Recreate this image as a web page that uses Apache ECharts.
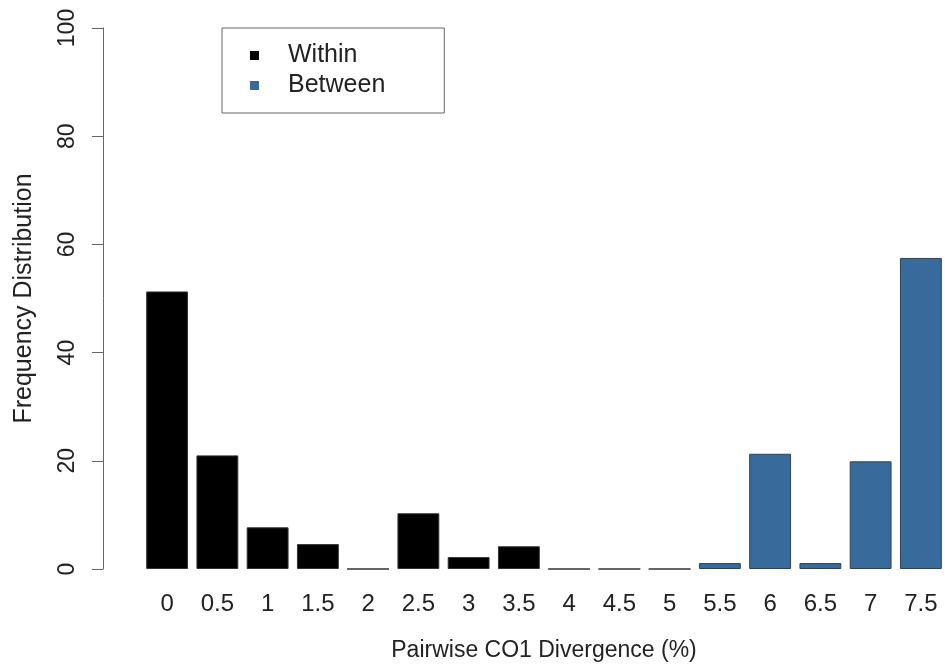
<!DOCTYPE html>
<html>
<head>
<meta charset="utf-8">
<script src="https://cdn.jsdelivr.net/npm/echarts@6/dist/echarts.min.js"></script>
<style>
html,body{margin:0;padding:0;background:#fff;}
#chart{width:945px;height:669px;}
</style>
</head>
<body>
<div id="chart"></div>
<script>
const categories = ['0','0.5','1','1.5','2','2.5','3','3.5','4','4.5','5','5.5','6','6.5','7','7.5'];
const withinValues = [51.3, 21.0, 7.7, 4.6, 0, 10.3, 2.2, 4.2, 0, 0, 0, null, null, null, null, null];
const betweenValues = [null, null, null, null, null, null, null, null, null, null, null, 1.1, 21.3, 1.1, 19.9, 57.5];
const yTicks = [0, 20, 40, 60, 80, 100];

const font = 'Liberation Sans, Arial, Helvetica, sans-serif';
const chart = echarts.init(document.getElementById('chart'), null, {renderer: 'canvas'});
chart.setOption({
  animation: false,
  backgroundColor: '#fff',
  grid: {left: 142, top: 28, bottom: 100, width: 804, containLabel: false, outerBoundsMode: 'none'},
  legend: {
    orient: 'vertical',
    left: 222, top: 28,
    data: ['Within', 'Between'],
    icon: 'rect',
    itemWidth: 9, itemHeight: 9,
    itemGap: 5,
    padding: [15, 59, 15, 28],
    borderColor: '#666', borderWidth: 1,
    itemStyle: {borderWidth: 0},
    textStyle: {fontFamily: font, fontSize: 25, color: '#222', padding: [0, 0, 0, 24], lineHeight: 25}
  },
  xAxis: {
    type: 'category',
    data: categories,
    axisLine: {show: false},
    axisTick: {show: false},
    axisLabel: {fontFamily: font, fontSize: 24, color: '#222', margin: 23},
    name: 'Pairwise CO1 Divergence (%)',
    nameLocation: 'middle',
    nameGap: 70,
    nameTextStyle: {fontFamily: font, fontSize: 23, color: '#222'}
  },
  yAxis: {
    type: 'value',
    min: yTicks[0], max: yTicks[yTicks.length - 1], interval: 20,
    offset: 39,
    splitLine: {show: false},
    axisLine: {show: true, lineStyle: {color: '#666', width: 1}},
    axisTick: {show: true, length: 11, lineStyle: {color: '#666'}},
    axisLabel: {fontFamily: font, fontSize: 23, color: '#222', rotate: 90, margin: 24},
    name: 'Frequency Distribution',
    nameLocation: 'middle',
    nameRotate: 90,
    nameGap: 66,
    nameTextStyle: {fontFamily: font, fontSize: 25, color: '#222'}
  },
  series: [
    {
      name: 'Within', type: 'bar', data: withinValues,
      barCategoryGap: '16.7%', barGap: '-100%',
      itemStyle: {color: '#000', borderColor: '#333', borderWidth: 1}
    },
    {
      name: 'Between', type: 'bar', data: betweenValues,
      barCategoryGap: '16.7%', barGap: '-100%',
      itemStyle: {color: '#386a9c', borderColor: '#2c4257', borderWidth: 1}
    }
  ]
});
</script>
</body>
</html>
